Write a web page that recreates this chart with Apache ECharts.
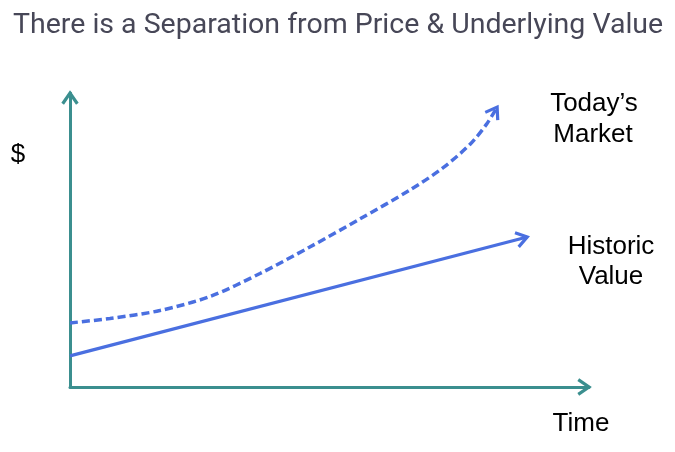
<!DOCTYPE html>
<html>
<head>
<meta charset="utf-8">
<script src="https://cdn.jsdelivr.net/npm/echarts@6/dist/echarts.min.js"></script>
<style>html,body{margin:0;padding:0;background:#fff;}#c{width:675px;height:452px;}</style>
</head>
<body>
<div id="c"></div>
<script>
// ---- data (time units 0..100, value units 0..100) ----
const titleText = 'There is a Separation from Price & Underlying Value';
const marketX = [0, 7.7, 17.3, 27.0, 36.6, 46.2, 55.9, 65.5, 71.9, 77.1, 80.3, 82.3];
const marketY = [21.8, 23.3, 26.0, 30.8, 38.6, 47.6, 57.2, 67.0, 74.6, 82.6, 89.5, 95.2];
const historicX = [0, 88.1];
const historicY = [10.6, 51.0];
const labelMarket = ['Today\u2019s', 'Market'];
const labelHistoric = ['Historic', 'Value'];
const labelTime = 'Time';
const labelDollar = '$';

const BLUE = '#4a6fe0';
const TEAL = '#3b8f8f';

const marketData = marketX.map((x, i) => [x, marketY[i]]);
const historicData = historicX.map((x, i) => [x, historicY[i]]);
const n = marketData.length;
// arrowheads: [tipX, tipY, fromX, fromY, colorIndex]
const arrows = [
  [marketData[n - 1][0], marketData[n - 1][1], marketData[n - 2][0], marketData[n - 2][1], 0],
  [historicData[1][0], historicData[1][1], historicData[0][0], historicData[0][1], 0],
  [100, 0, 90, 0, 1],
  [0, 100, 0, 90, 1]
];

const chart = echarts.init(document.getElementById('c'), null, { renderer: 'canvas' });
const bodyFont = 'Liberation Sans, Arial, Helvetica, sans-serif';
const FS = '26px ';

chart.setOption({
  animation: false,
  backgroundColor: '#ffffff',
  title: {
    text: titleText,
    left: 8,
    top: 6,
    textStyle: { fontFamily: 'Roboto', fontWeight: 'normal', fontSize: 28.5, color: '#474757' }
  },
  grid: { left: 70, right: 86, top: 93, bottom: 65 },
  xAxis: {
    type: 'value', min: 0, max: 100,
    axisLine: { show: true, lineStyle: { color: TEAL, width: 3 } },
    axisTick: { show: false }, axisLabel: { show: false }, splitLine: { show: false }
  },
  yAxis: {
    type: 'value', min: 0, max: 100,
    axisLine: { show: true, lineStyle: { color: TEAL, width: 3 } },
    axisTick: { show: false }, axisLabel: { show: false }, splitLine: { show: false }
  },
  series: [
    {
      type: 'line', data: marketData, smooth: 0.3, symbol: 'none',
      lineStyle: { color: BLUE, width: 3.5, type: [8, 4] }
    },
    {
      type: 'line', data: historicData, symbol: 'none',
      lineStyle: { color: BLUE, width: 3.2 }
    },
    {
      type: 'custom', data: arrows, clip: false, z: 5,
      renderItem: function (params, api) {
        const tip = api.coord([api.value(0), api.value(1)]);
        const from = api.coord([api.value(2), api.value(3)]);
        const ang = Math.atan2(tip[1] - from[1], tip[0] - from[0]);
        const len = 13, spread = 0.6;
        const p1 = [tip[0] - len * Math.cos(ang - spread), tip[1] - len * Math.sin(ang - spread)];
        const p2 = [tip[0] - len * Math.cos(ang + spread), tip[1] - len * Math.sin(ang + spread)];
        const color = api.value(4) === 0 ? BLUE : TEAL;
        return {
          type: 'polyline',
          shape: { points: [p1, tip, p2] },
          style: { stroke: color, lineWidth: 3.2, fill: null, lineJoin: 'miter', lineCap: 'butt' }
        };
      }
    }
  ],
  graphic: [
    { type: 'text', x: 18, y: 155, style: { text: labelDollar, font: FS + bodyFont, fill: '#000', align: 'center', verticalAlign: 'middle' } },
    { type: 'text', x: 594, y: 104, style: { text: labelMarket[0], font: FS + bodyFont, fill: '#000', align: 'center', verticalAlign: 'middle' } },
    { type: 'text', x: 593, y: 135, style: { text: labelMarket[1], font: FS + bodyFont, fill: '#000', align: 'center', verticalAlign: 'middle' } },
    { type: 'text', x: 611, y: 247, style: { text: labelHistoric[0], font: FS + bodyFont, fill: '#000', align: 'center', verticalAlign: 'middle' } },
    { type: 'text', x: 611, y: 277, style: { text: labelHistoric[1], font: FS + bodyFont, fill: '#000', align: 'center', verticalAlign: 'middle' } },
    { type: 'text', x: 581, y: 424, style: { text: labelTime, font: FS + bodyFont, fill: '#000', align: 'center', verticalAlign: 'middle' } }
  ]
});
</script>
</body>
</html>
